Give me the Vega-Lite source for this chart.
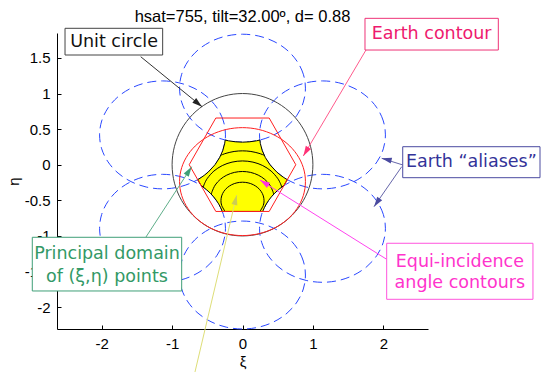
{
  "$schema": "https://vega.github.io/schema/vega-lite/v6.json",
  "width": 371,
  "height": 296,
  "autosize": {"type": "none"},
  "padding": {"left": 57, "top": 33, "right": 121, "bottom": 45},
  "background": "white",
  "title": {
    "text": "hsat=755, tilt=32.00º, d= 0.88",
    "font": "Liberation Sans",
    "fontSize": 16.5,
    "fontWeight": "normal",
    "color": "#000000",
    "anchor": "middle",
    "frame": "group",
    "offset": -8
  },
  "config": {
    "view": {"stroke": null},
    "axis": {
      "grid": false,
      "domainColor": "#000000",
      "tickColor": "#000000",
      "tickSize": -4,
      "labelPadding": 11,
      "labelFont": "Liberation Sans",
      "labelFontSize": 15,
      "labelColor": "#000000",
      "titleFont": "Liberation Sans",
      "titleFontSize": 15,
      "titleFontWeight": "normal",
      "titleColor": "#000000",
      "titlePadding": 3
    }
  },
  "datasets": {
    "curves": [
      {"c": "A1", "i": 0, "x": 0.894, "y": 1.075}, {"c": "A1", "i": 1, "x": 0.864, "y": 1.271}, {"c": "A1", "i": 2, "x": 0.774, "y": 1.454}, {"c": "A1", "i": 3, "x": 0.632, "y": 1.611},
      {"c": "A1", "i": 4, "x": 0.447, "y": 1.731}, {"c": "A1", "i": 5, "x": 0.231, "y": 1.807}, {"c": "A1", "i": 6, "x": 0, "y": 1.833}, {"c": "A1", "i": 7, "x": -0.231, "y": 1.807},
      {"c": "A1", "i": 8, "x": -0.447, "y": 1.731}, {"c": "A1", "i": 9, "x": -0.632, "y": 1.611}, {"c": "A1", "i": 10, "x": -0.774, "y": 1.454}, {"c": "A1", "i": 11, "x": -0.864, "y": 1.271},
      {"c": "A1", "i": 12, "x": -0.894, "y": 1.075}, {"c": "A1", "i": 13, "x": -0.864, "y": 0.879}, {"c": "A1", "i": 14, "x": -0.774, "y": 0.696}, {"c": "A1", "i": 15, "x": -0.632, "y": 0.539},
      {"c": "A1", "i": 16, "x": -0.447, "y": 0.419}, {"c": "A1", "i": 17, "x": -0.231, "y": 0.343}, {"c": "A1", "i": 18, "x": 0, "y": 0.317}, {"c": "A1", "i": 19, "x": 0.231, "y": 0.343},
      {"c": "A1", "i": 20, "x": 0.447, "y": 0.419}, {"c": "A1", "i": 21, "x": 0.632, "y": 0.539}, {"c": "A1", "i": 22, "x": 0.774, "y": 0.696}, {"c": "A1", "i": 23, "x": 0.864, "y": 0.879},

      {"c": "A2", "i": 0, "x": 0.894, "y": -1.549}, {"c": "A2", "i": 1, "x": 0.864, "y": -1.353}, {"c": "A2", "i": 2, "x": 0.774, "y": -1.17}, {"c": "A2", "i": 3, "x": 0.632, "y": -1.013},
      {"c": "A2", "i": 4, "x": 0.447, "y": -0.893}, {"c": "A2", "i": 5, "x": 0.231, "y": -0.817}, {"c": "A2", "i": 6, "x": 0, "y": -0.791}, {"c": "A2", "i": 7, "x": -0.231, "y": -0.817},
      {"c": "A2", "i": 8, "x": -0.447, "y": -0.893}, {"c": "A2", "i": 9, "x": -0.632, "y": -1.013}, {"c": "A2", "i": 10, "x": -0.774, "y": -1.17}, {"c": "A2", "i": 11, "x": -0.864, "y": -1.353},
      {"c": "A2", "i": 12, "x": -0.894, "y": -1.549}, {"c": "A2", "i": 13, "x": -0.864, "y": -1.745}, {"c": "A2", "i": 14, "x": -0.774, "y": -1.928}, {"c": "A2", "i": 15, "x": -0.632, "y": -2.085},
      {"c": "A2", "i": 16, "x": -0.447, "y": -2.205}, {"c": "A2", "i": 17, "x": -0.231, "y": -2.281}, {"c": "A2", "i": 18, "x": 0, "y": -2.307}, {"c": "A2", "i": 19, "x": 0.231, "y": -2.281},
      {"c": "A2", "i": 20, "x": 0.447, "y": -2.205}, {"c": "A2", "i": 21, "x": 0.632, "y": -2.085}, {"c": "A2", "i": 22, "x": 0.774, "y": -1.928}, {"c": "A2", "i": 23, "x": 0.864, "y": -1.745},

      {"c": "A3", "i": 0, "x": 2.03, "y": 0.419}, {"c": "A3", "i": 1, "x": 2.0, "y": 0.615}, {"c": "A3", "i": 2, "x": 1.91, "y": 0.798}, {"c": "A3", "i": 3, "x": 1.768, "y": 0.955},
      {"c": "A3", "i": 4, "x": 1.583, "y": 1.075}, {"c": "A3", "i": 5, "x": 1.367, "y": 1.151}, {"c": "A3", "i": 6, "x": 1.136, "y": 1.177}, {"c": "A3", "i": 7, "x": 0.905, "y": 1.151},
      {"c": "A3", "i": 8, "x": 0.689, "y": 1.075}, {"c": "A3", "i": 9, "x": 0.504, "y": 0.955}, {"c": "A3", "i": 10, "x": 0.362, "y": 0.798}, {"c": "A3", "i": 11, "x": 0.272, "y": 0.615},
      {"c": "A3", "i": 12, "x": 0.242, "y": 0.419}, {"c": "A3", "i": 13, "x": 0.272, "y": 0.223}, {"c": "A3", "i": 14, "x": 0.362, "y": 0.04}, {"c": "A3", "i": 15, "x": 0.504, "y": -0.117},
      {"c": "A3", "i": 16, "x": 0.689, "y": -0.237}, {"c": "A3", "i": 17, "x": 0.905, "y": -0.313}, {"c": "A3", "i": 18, "x": 1.136, "y": -0.339}, {"c": "A3", "i": 19, "x": 1.367, "y": -0.313},
      {"c": "A3", "i": 20, "x": 1.583, "y": -0.237}, {"c": "A3", "i": 21, "x": 1.768, "y": -0.117}, {"c": "A3", "i": 22, "x": 1.91, "y": 0.04}, {"c": "A3", "i": 23, "x": 2.0, "y": 0.223},

      {"c": "A4", "i": 0, "x": -0.242, "y": 0.419}, {"c": "A4", "i": 1, "x": -0.272, "y": 0.615}, {"c": "A4", "i": 2, "x": -0.362, "y": 0.798}, {"c": "A4", "i": 3, "x": -0.504, "y": 0.955},
      {"c": "A4", "i": 4, "x": -0.689, "y": 1.075}, {"c": "A4", "i": 5, "x": -0.905, "y": 1.151}, {"c": "A4", "i": 6, "x": -1.136, "y": 1.177}, {"c": "A4", "i": 7, "x": -1.367, "y": 1.151},
      {"c": "A4", "i": 8, "x": -1.583, "y": 1.075}, {"c": "A4", "i": 9, "x": -1.768, "y": 0.955}, {"c": "A4", "i": 10, "x": -1.91, "y": 0.798}, {"c": "A4", "i": 11, "x": -2.0, "y": 0.615},
      {"c": "A4", "i": 12, "x": -2.03, "y": 0.419}, {"c": "A4", "i": 13, "x": -2.0, "y": 0.223}, {"c": "A4", "i": 14, "x": -1.91, "y": 0.04}, {"c": "A4", "i": 15, "x": -1.768, "y": -0.117},
      {"c": "A4", "i": 16, "x": -1.583, "y": -0.237}, {"c": "A4", "i": 17, "x": -1.367, "y": -0.313}, {"c": "A4", "i": 18, "x": -1.136, "y": -0.339}, {"c": "A4", "i": 19, "x": -0.905, "y": -0.313},
      {"c": "A4", "i": 20, "x": -0.689, "y": -0.237}, {"c": "A4", "i": 21, "x": -0.504, "y": -0.117}, {"c": "A4", "i": 22, "x": -0.362, "y": 0.04}, {"c": "A4", "i": 23, "x": -0.272, "y": 0.223},

      {"c": "A5", "i": 0, "x": 2.03, "y": -0.893}, {"c": "A5", "i": 1, "x": 2.0, "y": -0.697}, {"c": "A5", "i": 2, "x": 1.91, "y": -0.514}, {"c": "A5", "i": 3, "x": 1.768, "y": -0.357},
      {"c": "A5", "i": 4, "x": 1.583, "y": -0.237}, {"c": "A5", "i": 5, "x": 1.367, "y": -0.161}, {"c": "A5", "i": 6, "x": 1.136, "y": -0.135}, {"c": "A5", "i": 7, "x": 0.905, "y": -0.161},
      {"c": "A5", "i": 8, "x": 0.689, "y": -0.237}, {"c": "A5", "i": 9, "x": 0.504, "y": -0.357}, {"c": "A5", "i": 10, "x": 0.362, "y": -0.514}, {"c": "A5", "i": 11, "x": 0.272, "y": -0.697},
      {"c": "A5", "i": 12, "x": 0.242, "y": -0.893}, {"c": "A5", "i": 13, "x": 0.272, "y": -1.089}, {"c": "A5", "i": 14, "x": 0.362, "y": -1.272}, {"c": "A5", "i": 15, "x": 0.504, "y": -1.429},
      {"c": "A5", "i": 16, "x": 0.689, "y": -1.549}, {"c": "A5", "i": 17, "x": 0.905, "y": -1.625}, {"c": "A5", "i": 18, "x": 1.136, "y": -1.651}, {"c": "A5", "i": 19, "x": 1.367, "y": -1.625},
      {"c": "A5", "i": 20, "x": 1.583, "y": -1.549}, {"c": "A5", "i": 21, "x": 1.768, "y": -1.429}, {"c": "A5", "i": 22, "x": 1.91, "y": -1.272}, {"c": "A5", "i": 23, "x": 2.0, "y": -1.089},

      {"c": "A6", "i": 0, "x": -0.242, "y": -0.893}, {"c": "A6", "i": 1, "x": -0.272, "y": -0.697}, {"c": "A6", "i": 2, "x": -0.362, "y": -0.514}, {"c": "A6", "i": 3, "x": -0.504, "y": -0.357},
      {"c": "A6", "i": 4, "x": -0.689, "y": -0.237}, {"c": "A6", "i": 5, "x": -0.905, "y": -0.161}, {"c": "A6", "i": 6, "x": -1.136, "y": -0.135}, {"c": "A6", "i": 7, "x": -1.367, "y": -0.161},
      {"c": "A6", "i": 8, "x": -1.583, "y": -0.237}, {"c": "A6", "i": 9, "x": -1.768, "y": -0.357}, {"c": "A6", "i": 10, "x": -1.91, "y": -0.514}, {"c": "A6", "i": 11, "x": -2.0, "y": -0.697},
      {"c": "A6", "i": 12, "x": -2.03, "y": -0.893}, {"c": "A6", "i": 13, "x": -2.0, "y": -1.089}, {"c": "A6", "i": 14, "x": -1.91, "y": -1.272}, {"c": "A6", "i": 15, "x": -1.768, "y": -1.429},
      {"c": "A6", "i": 16, "x": -1.583, "y": -1.549}, {"c": "A6", "i": 17, "x": -1.367, "y": -1.625}, {"c": "A6", "i": 18, "x": -1.136, "y": -1.651}, {"c": "A6", "i": 19, "x": -0.905, "y": -1.625},
      {"c": "A6", "i": 20, "x": -0.689, "y": -1.549}, {"c": "A6", "i": 21, "x": -0.504, "y": -1.429}, {"c": "A6", "i": 22, "x": -0.362, "y": -1.272}, {"c": "A6", "i": 23, "x": -0.272, "y": -1.089},

      {"c": "E", "i": 0, "x": 0.894, "y": -0.237}, {"c": "E", "i": 1, "x": 0.864, "y": -0.041}, {"c": "E", "i": 2, "x": 0.774, "y": 0.142}, {"c": "E", "i": 3, "x": 0.632, "y": 0.299},
      {"c": "E", "i": 4, "x": 0.447, "y": 0.419}, {"c": "E", "i": 5, "x": 0.231, "y": 0.495}, {"c": "E", "i": 6, "x": 0, "y": 0.521}, {"c": "E", "i": 7, "x": -0.231, "y": 0.495},
      {"c": "E", "i": 8, "x": -0.447, "y": 0.419}, {"c": "E", "i": 9, "x": -0.632, "y": 0.299}, {"c": "E", "i": 10, "x": -0.774, "y": 0.142}, {"c": "E", "i": 11, "x": -0.864, "y": -0.041},
      {"c": "E", "i": 12, "x": -0.894, "y": -0.237}, {"c": "E", "i": 13, "x": -0.864, "y": -0.433}, {"c": "E", "i": 14, "x": -0.774, "y": -0.616}, {"c": "E", "i": 15, "x": -0.632, "y": -0.773},
      {"c": "E", "i": 16, "x": -0.447, "y": -0.893}, {"c": "E", "i": 17, "x": -0.231, "y": -0.969}, {"c": "E", "i": 18, "x": 0, "y": -0.995}, {"c": "E", "i": 19, "x": 0.231, "y": -0.969},
      {"c": "E", "i": 20, "x": 0.447, "y": -0.893}, {"c": "E", "i": 21, "x": 0.632, "y": -0.773}, {"c": "E", "i": 22, "x": 0.774, "y": -0.616}, {"c": "E", "i": 23, "x": 0.864, "y": -0.433},

      {"c": "U", "i": 0, "x": 1, "y": 0}, {"c": "U", "i": 1, "x": 0.966, "y": 0.259}, {"c": "U", "i": 2, "x": 0.866, "y": 0.5}, {"c": "U", "i": 3, "x": 0.707, "y": 0.707},
      {"c": "U", "i": 4, "x": 0.5, "y": 0.866}, {"c": "U", "i": 5, "x": 0.259, "y": 0.966}, {"c": "U", "i": 6, "x": 0, "y": 1}, {"c": "U", "i": 7, "x": -0.259, "y": 0.966},
      {"c": "U", "i": 8, "x": -0.5, "y": 0.866}, {"c": "U", "i": 9, "x": -0.707, "y": 0.707}, {"c": "U", "i": 10, "x": -0.866, "y": 0.5}, {"c": "U", "i": 11, "x": -0.966, "y": 0.259},
      {"c": "U", "i": 12, "x": -1, "y": 0}, {"c": "U", "i": 13, "x": -0.966, "y": -0.259}, {"c": "U", "i": 14, "x": -0.866, "y": -0.5}, {"c": "U", "i": 15, "x": -0.707, "y": -0.707},
      {"c": "U", "i": 16, "x": -0.5, "y": -0.866}, {"c": "U", "i": 17, "x": -0.259, "y": -0.966}, {"c": "U", "i": 18, "x": 0, "y": -1}, {"c": "U", "i": 19, "x": 0.259, "y": -0.966},
      {"c": "U", "i": 20, "x": 0.5, "y": -0.866}, {"c": "U", "i": 21, "x": 0.707, "y": -0.707}, {"c": "U", "i": 22, "x": 0.866, "y": -0.5}, {"c": "U", "i": 23, "x": 0.966, "y": -0.259}
    ],
    "hexagon": [
      {"i": 0, "x": 0.757, "y": 0}, {"i": 1, "x": 0.379, "y": 0.656}, {"i": 2, "x": -0.379, "y": 0.656},
      {"i": 3, "x": -0.757, "y": 0}, {"i": 4, "x": -0.379, "y": -0.656}, {"i": 5, "x": 0.379, "y": -0.656}
    ],
    "domain": [
      {"i": 0, "x": 0, "y": 0.317}, {"i": 1, "x": -0.1, "y": 0.322}, {"i": 2, "x": -0.2, "y": 0.336}, {"i": 3, "x": -0.246, "y": 0.347},
      {"i": 4, "x": -0.253, "y": 0.3}, {"i": 5, "x": -0.28, "y": 0.2}, {"i": 6, "x": -0.325, "y": 0.1}, {"i": 7, "x": -0.391, "y": 0.0},
      {"i": 8, "x": -0.484, "y": -0.1}, {"i": 9, "x": -0.545, "y": -0.15}, {"i": 10, "x": -0.588, "y": -0.18}, {"i": 11, "x": -0.62, "y": -0.2},
      {"i": 12, "x": -0.636, "y": -0.21}, {"i": 13, "x": -0.591, "y": -0.288}, {"i": 14, "x": -0.512, "y": -0.35}, {"i": 15, "x": -0.457, "y": -0.4},
      {"i": 16, "x": -0.411, "y": -0.45}, {"i": 17, "x": -0.372, "y": -0.5}, {"i": 18, "x": -0.339, "y": -0.55}, {"i": 19, "x": -0.312, "y": -0.6},
      {"i": 20, "x": -0.287, "y": -0.656}, {"i": 21, "x": 0.287, "y": -0.656}, {"i": 22, "x": 0.312, "y": -0.6}, {"i": 23, "x": 0.339, "y": -0.55},
      {"i": 24, "x": 0.372, "y": -0.5}, {"i": 25, "x": 0.411, "y": -0.45}, {"i": 26, "x": 0.457, "y": -0.4}, {"i": 27, "x": 0.512, "y": -0.35},
      {"i": 28, "x": 0.591, "y": -0.288}, {"i": 29, "x": 0.636, "y": -0.21}, {"i": 30, "x": 0.62, "y": -0.2}, {"i": 31, "x": 0.588, "y": -0.18},
      {"i": 32, "x": 0.545, "y": -0.15}, {"i": 33, "x": 0.484, "y": -0.1}, {"i": 34, "x": 0.391, "y": 0.0}, {"i": 35, "x": 0.325, "y": 0.1},
      {"i": 36, "x": 0.28, "y": 0.2}, {"i": 37, "x": 0.253, "y": 0.3}, {"i": 38, "x": 0.246, "y": 0.347}, {"i": 39, "x": 0.2, "y": 0.336},
      {"i": 40, "x": 0.1, "y": 0.322}
    ],
    "contours": [
      {"c": 20, "i": 0, "x": -0.248, "y": -0.656}, {"c": 20, "i": 1, "x": -0.2956, "y": -0.5716}, {"c": 20, "i": 2, "x": -0.306, "y": -0.5046},
      {"c": 20, "i": 3, "x": -0.2956, "y": -0.4376}, {"c": 20, "i": 4, "x": -0.265, "y": -0.3751}, {"c": 20, "i": 5, "x": -0.2164, "y": -0.3215},
      {"c": 20, "i": 6, "x": -0.153, "y": -0.2803}, {"c": 20, "i": 7, "x": -0.0792, "y": -0.2544}, {"c": 20, "i": 8, "x": 0, "y": -0.2456},
      {"c": 20, "i": 9, "x": 0.0792, "y": -0.2544}, {"c": 20, "i": 10, "x": 0.153, "y": -0.2803}, {"c": 20, "i": 11, "x": 0.2164, "y": -0.3215},
      {"c": 20, "i": 12, "x": 0.265, "y": -0.3751}, {"c": 20, "i": 13, "x": 0.2956, "y": -0.4376}, {"c": 20, "i": 14, "x": 0.306, "y": -0.5046},
      {"c": 20, "i": 15, "x": 0.2956, "y": -0.5716}, {"c": 20, "i": 16, "x": 0.248, "y": -0.656},

      {"c": 30, "i": 0, "x": -0.4415, "y": -0.4147}, {"c": 30, "i": 1, "x": -0.4318, "y": -0.3759}, {"c": 30, "i": 2, "x": -0.3871, "y": -0.2845},
      {"c": 30, "i": 3, "x": -0.3161, "y": -0.206}, {"c": 30, "i": 4, "x": -0.2235, "y": -0.1458}, {"c": 30, "i": 5, "x": -0.1157, "y": -0.1079},
      {"c": 30, "i": 6, "x": 0, "y": -0.095}, {"c": 30, "i": 7, "x": 0.1157, "y": -0.1079}, {"c": 30, "i": 8, "x": 0.2235, "y": -0.1458},
      {"c": 30, "i": 9, "x": 0.3161, "y": -0.206}, {"c": 30, "i": 10, "x": 0.3871, "y": -0.2845}, {"c": 30, "i": 11, "x": 0.4318, "y": -0.3759},
      {"c": 30, "i": 12, "x": 0.4415, "y": -0.4147},

      {"c": 40, "i": 0, "x": -0.5574, "y": -0.3142}, {"c": 40, "i": 1, "x": -0.5403, "y": -0.2671}, {"c": 40, "i": 2, "x": -0.498, "y": -0.1902},
      {"c": 40, "i": 3, "x": -0.4066, "y": -0.0893}, {"c": 40, "i": 4, "x": -0.2875, "y": -0.0119}, {"c": 40, "i": 5, "x": -0.1488, "y": 0.0367},
      {"c": 40, "i": 6, "x": 0, "y": 0.0533}, {"c": 40, "i": 7, "x": 0.1488, "y": 0.0367}, {"c": 40, "i": 8, "x": 0.2875, "y": -0.0119},
      {"c": 40, "i": 9, "x": 0.4066, "y": -0.0893}, {"c": 40, "i": 10, "x": 0.498, "y": -0.1902}, {"c": 40, "i": 11, "x": 0.5403, "y": -0.2671},
      {"c": 40, "i": 12, "x": 0.5574, "y": -0.3142},

      {"c": 50, "i": 0, "x": -0.3078, "y": 0.133}, {"c": 50, "i": 1, "x": -0.2343, "y": 0.16}, {"c": 50, "i": 2, "x": -0.119, "y": 0.1862},
      {"c": 50, "i": 3, "x": 0, "y": 0.195}, {"c": 50, "i": 4, "x": 0.119, "y": 0.1862}, {"c": 50, "i": 5, "x": 0.2343, "y": 0.16},
      {"c": 50, "i": 6, "x": 0.3078, "y": 0.133}
    ],
    "arrows": [
      {"note": "unit", "x": -1.446, "y": 1.517, "x2": -0.575, "y2": 0.815, "angle": 129.2},
      {"note": "earth", "x": 1.754, "y": 1.611, "x2": 0.864, "y2": 0.123, "angle": 210.6},
      {"note": "aliases", "x": 2.276, "y": -0.003, "x2": 1.977, "y2": 0.09, "angle": 283.4},
      {"note": "aliases", "x": 2.262, "y": -0.027, "x2": 1.868, "y2": -0.589, "angle": 214.7},
      {"note": "equi", "x": 2.048, "y": -1.328, "x2": 0.249, "y2": -0.215, "angle": 302},
      {"note": "principal", "x": -1.371, "y": -1.015, "x2": -0.722, "y2": -0.028, "angle": 33},
      {"note": "incidence", "x": -0.675, "y": -2.911, "x2": -0.082, "y2": -0.425, "angle": 13.3}
    ],
    "boxes": [
      {"note": "unit", "x": -2.521, "x2": -1.134, "y": 1.916, "y2": 1.541},
      {"note": "earth", "x": 1.74, "x2": 3.634, "y": 2.056, "y2": 1.611},
      {"note": "aliases", "x": 2.276, "x2": 4.226, "y": 0.253, "y2": -0.182},
      {"note": "equi", "x": 2.048, "x2": 4.126, "y": -1.103, "y2": -1.89},
      {"note": "principal", "x": -2.986, "x2": -0.864, "y": -1.019, "y2": -1.773}
    ],
    "labels": [
      {"note": "unit", "x": -1.825, "y": 1.724, "text": "Unit circle"},
      {"note": "earth", "x": 2.687, "y": 1.834, "text": "Earth contour"},
      {"note": "aliases", "x": 3.251, "y": 0.036, "text": "Earth “aliases”"},
      {"note": "equi", "x": 3.087, "y": -1.362, "text": "Equi-incidence"},
      {"note": "equi", "x": 3.087, "y": -1.665, "text": "angle contours"},
      {"note": "principal", "x": -1.925, "y": -1.256, "text": "Principal domain"},
      {"note": "principal", "x": -1.925, "y": -1.57, "text": "of (ξ,η) points"}
    ]
  },
  "encoding": {
    "x": {
      "field": "x",
      "type": "quantitative",
      "scale": {"domain": [-2.635, 2.635], "nice": false, "zero": false},
      "axis": {"values": [-2, -1, 0, 1, 2], "title": "ξ", "labelExpr": "'' + datum.value"}
    },
    "y": {
      "field": "y",
      "type": "quantitative",
      "scale": {"domain": [-2.307, 1.85], "nice": false, "zero": false},
      "axis": {"values": [-2, -1.5, -1, -0.5, 0, 0.5, 1, 1.5], "title": "η", "labelExpr": "'' + datum.value"}
    }
  },
  "layer": [
    {
      "data": {"name": "curves"},
      "transform": [{"filter": {"field": "c", "oneOf": ["A1", "A2", "A3", "A4", "A5", "A6"]}}],
      "mark": {"type": "line", "interpolate": "cardinal-closed", "stroke": "#2a48ff", "strokeWidth": 1, "strokeDash": [9, 5]},
      "encoding": {"detail": {"field": "c"}, "order": {"field": "i", "type": "quantitative"}}
    },
    {
      "data": {"name": "domain"},
      "mark": {"type": "line", "interpolate": "linear-closed", "filled": true, "fill": "#ffff00", "stroke": "#000000", "strokeWidth": 1},
      "encoding": {"order": {"field": "i", "type": "quantitative"}}
    },
    {
      "data": {"name": "contours"},
      "mark": {"type": "line", "interpolate": "cardinal", "stroke": "#000000", "strokeWidth": 1},
      "encoding": {"detail": {"field": "c"}, "order": {"field": "i", "type": "quantitative"}}
    },
    {
      "data": {"name": "curves"},
      "transform": [{"filter": {"field": "c", "equal": "U"}}],
      "mark": {"type": "line", "interpolate": "cardinal-closed", "stroke": "#444444", "strokeWidth": 1},
      "encoding": {"order": {"field": "i", "type": "quantitative"}}
    },
    {
      "data": {"name": "curves"},
      "transform": [{"filter": {"field": "c", "equal": "E"}}],
      "mark": {"type": "line", "interpolate": "cardinal-closed", "stroke": "#ff2020", "strokeWidth": 1},
      "encoding": {"order": {"field": "i", "type": "quantitative"}}
    },
    {
      "data": {"name": "hexagon"},
      "mark": {"type": "line", "interpolate": "linear-closed", "stroke": "#ff2020", "strokeWidth": 1},
      "encoding": {"order": {"field": "i", "type": "quantitative"}}
    },
    {
      "data": {"name": "arrows"},
      "mark": {"type": "rule", "strokeWidth": 1},
      "encoding": {
        "x2": {"field": "x2"},
        "y2": {"field": "y2"},
        "color": {
          "field": "note", "type": "nominal", "legend": null,
          "scale": {"domain": ["unit", "earth", "aliases", "equi", "principal", "incidence"], "range": ["#333333", "#ff5a8c", "#6666aa", "#ff44ee", "#5fae8a", "#dede78"]}
        }
      }
    },
    {
      "data": {"name": "arrows"},
      "mark": {"type": "point", "filled": true, "opacity": 1, "shape": "M0,0L-0.6,2L0.6,2Z", "size": 100},
      "encoding": {
        "x": {"field": "x2", "type": "quantitative"},
        "y": {"field": "y2", "type": "quantitative"},
        "angle": {"field": "angle", "type": "quantitative", "scale": null},
        "color": {
          "field": "note", "type": "nominal", "legend": null,
          "scale": {"domain": ["unit", "earth", "aliases", "equi", "principal", "incidence"], "range": ["#222222", "#ff3377", "#4a4aa0", "#ff33e0", "#3f9f77", "#cccc55"]}
        }
      }
    },
    {
      "data": {"name": "boxes"},
      "mark": {"type": "rect", "fill": "#ffffff", "strokeWidth": 1},
      "encoding": {
        "x2": {"field": "x2"},
        "y2": {"field": "y2"},
        "stroke": {
          "field": "note", "type": "nominal", "legend": null,
          "scale": {"domain": ["unit", "earth", "aliases", "equi", "principal"], "range": ["#444444", "#ee3377", "#4a4aa0", "#ff55dd", "#3f9f77"]}
        }
      }
    },
    {
      "data": {"name": "labels"},
      "mark": {"type": "text", "font": "DejaVu Sans", "fontSize": 17.5, "align": "center", "baseline": "middle"},
      "encoding": {
        "text": {"field": "text"},
        "color": {
          "field": "note", "type": "nominal", "legend": null,
          "scale": {"domain": ["unit", "earth", "aliases", "equi", "principal"], "range": ["#111111", "#ee1a6e", "#333399", "#ff33cc", "#339966"]}
        }
      }
    }
  ],
  "resolve": {"scale": {"color": "independent"}}
}
